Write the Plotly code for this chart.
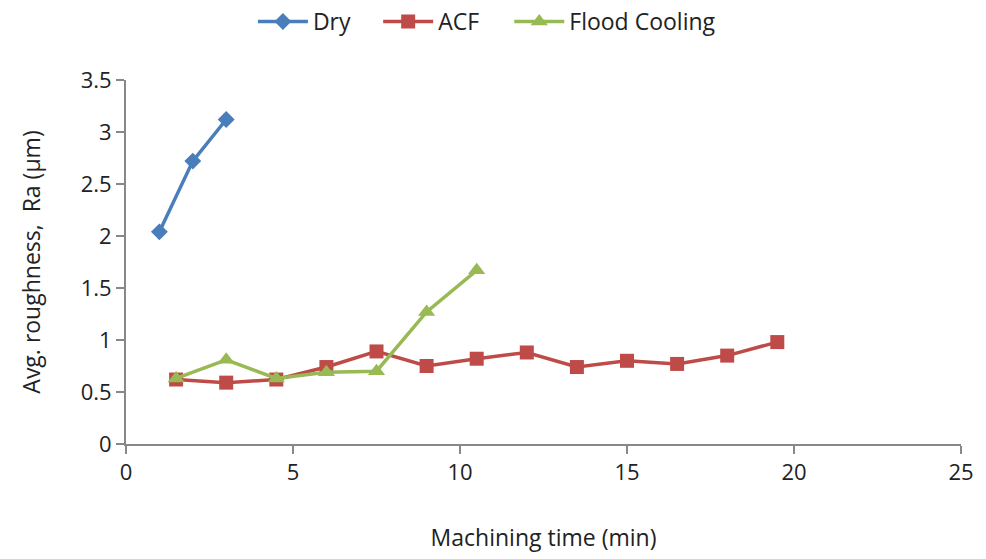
import plotly.graph_objects as go

dry_x = [1, 2, 3]
dry_y = [2.04, 2.72, 3.12]
acf_x = [1.5, 3, 4.5, 6, 7.5, 9, 10.5, 12, 13.5, 15, 16.5, 18, 19.5]
acf_y = [0.62, 0.59, 0.62, 0.74, 0.89, 0.75, 0.82, 0.88, 0.74, 0.80, 0.77, 0.85, 0.98]
flood_x = [1.5, 3, 4.5, 6, 7.5, 9, 10.5]
flood_y = [0.63, 0.81, 0.63, 0.69, 0.70, 1.27, 1.67]

x_ticks = [0, 5, 10, 15, 20, 25]
y_ticks = [0, 0.5, 1, 1.5, 2, 2.5, 3, 3.5]
y_tick_labels = ["0", "0.5", "1", "1.5", "2", "2.5", "3", "3.5"]

font_family = "Open Sans, Liberation Sans, sans-serif"

fig = go.Figure()
fig.add_trace(go.Scatter(x=dry_x, y=dry_y, name="Dry", mode="lines+markers",
                         line=dict(color="#4a7ebb", width=3.5), legend="legend",
                         marker=dict(symbol="diamond", size=13, color="#4a7ebb")))
fig.add_trace(go.Scatter(x=acf_x, y=acf_y, name="ACF", mode="lines+markers",
                         line=dict(color="#be4b48", width=3.5), legend="legend2",
                         marker=dict(symbol="square", size=14, color="#be4b48")))
fig.add_trace(go.Scatter(x=flood_x, y=flood_y, name="Flood Cooling", mode="lines+markers",
                         line=dict(color="#98b954", width=3.5), legend="legend3",
                         marker=dict(symbol="triangle-up", size=15, color="#98b954")))

leg_common = dict(orientation="h", xanchor="left", y=1.0, yanchor="top",
                  yref="container", xref="paper", font=dict(size=23), itemwidth=50,
                  bgcolor="rgba(0,0,0,0)")

fig.update_layout(
    width=986, height=559,
    margin=dict(l=126, r=20, t=80, b=115),
    paper_bgcolor="white", plot_bgcolor="white",
    font=dict(family=font_family, size=22, color="#222"),
    legend=dict(x=0.152, **leg_common),
    legend2=dict(x=0.302, **leg_common),
    legend3=dict(x=0.459, **leg_common),
    showlegend=True,
)
fig.update_xaxes(range=[0, 25], tickvals=x_ticks, showline=True, linecolor="#888",
                 linewidth=2, ticks="outside", tickcolor="#888", ticklen=8, tickwidth=2,
                 showgrid=False, zeroline=False,
                 title=dict(text="Machining time (min)", font=dict(size=23), standoff=44))
fig.update_yaxes(range=[0, 3.5], tickvals=y_ticks, ticktext=y_tick_labels, showline=True,
                 linecolor="#888", linewidth=2, ticks="outside", tickcolor="#888",
                 ticklen=8, tickwidth=2, showgrid=False, zeroline=False,
                 title=dict(text="Avg. roughness,  Ra (µm)", font=dict(size=23), standoff=34))

fig.write_html("out.html")
